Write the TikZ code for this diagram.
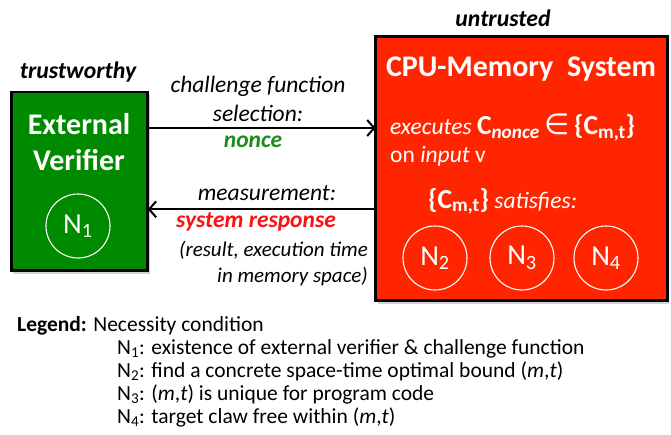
\documentclass[tikz,border=0pt]{standalone}
\usepackage{fontspec}
\setmainfont{Carlito}
\newfontfamily\symfont{DejaVu Sans}
\usetikzlibrary{arrows.meta,shadows}
\definecolor{vgreen}{HTML}{008A00}
\definecolor{vred}{HTML}{FF2500}
\definecolor{ngreen}{HTML}{1C8C1C}
\definecolor{rtext}{HTML}{FF1010}
\begin{document}
\begin{tikzpicture}[x=1pt,y=-1pt,
  box/.style={draw=black,line width=2.8pt,drop shadow={opacity=0.35,shadow xshift=2pt,shadow yshift=-3pt}},
  circ/.style={circle,draw=white,line width=1.1pt,minimum size=64pt,inner sep=0pt,text=white,font=\fontsize{29}{29}\selectfont},
  lbl/.style={font=\fontsize{23.5}{26}\selectfont\itshape,anchor=center,inner sep=0pt},
  hdr/.style={font=\fontsize{23.7}{26}\selectfont\bfseries\itshape,anchor=center,inner sep=0pt},
  wtitle/.style={text=white,font=\fontsize{30}{36}\selectfont\bfseries,align=center,inner sep=0pt},
  wtext/.style={text=white,font=\fontsize{23.5}{26}\selectfont,anchor=base west,inner sep=0pt},
  leg/.style={font=\fontsize{21.5}{24}\selectfont,anchor=base west,inner sep=0pt},
  arr/.style={line width=2pt,-{Straight Barb[length=7pt,width=16pt,line width=2pt]}},
]
\useasboundingbox (0,0) rectangle (671,434);
\fill[white] (0,0) rectangle (671,434);

% boxes
\path[box,fill=vgreen] (11.3,92) rectangle (147.8,270.7);
\coordinate (evR1) at (147.8,128);
\coordinate (evR2) at (147.8,209.3);
\path[box,fill=vred] (375.5,36.7) rectangle (667.3,300.7);
\coordinate (cpL1) at (375.5,128);
\coordinate (cpL2) at (375.5,209.3);

% headings
\node[hdr] (trust) at (78,72) {trustworthy};
\node[hdr] (untr) at (503,18) {untrusted};

% External verifier
\node[wtitle] (evt) at (79,142) {External\\Verifier};
\node[circ] (n1) at (78,226) {N\textsubscript{1}};

% CPU-Memory system
\node[wtitle,anchor=center] (cpt) at (521,69) {CPU-Memory\ \ System};
\node[wtext] (exe) at (390,134.5) {\itshape executes \upshape\fontsize{27.5}{28}\selectfont\bfseries C\textsubscript{\itshape nonce}\,{\mdseries\symfont\fontsize{29}{29}\selectfont ∈}\,\{C\textsubscript{m,t}\}};
\node[wtext] (oninp) at (390,162) {on \textit{input} v};
\node[wtext] (sat) at (428,208) {{\fontsize{27.5}{28}\selectfont\bfseries\{C\textsubscript{m,t}\}} \textit{satisfies:}};
\node[circ] (n2) at (435,258) {N\textsubscript{2}};
\node[circ] (n3) at (522,258) {N\textsubscript{3}};
\node[circ] (n4) at (606,258) {N\textsubscript{4}};

% arrows
\draw[arr] (evR1) -- (cpL1);
\draw[arr] (cpL2) -- (evR2);

% arrow labels
\node[lbl] (l1) at (258,86) {challenge function};
\node[lbl] (l2) at (258,113) {selection:};
\node[lbl,font=\fontsize{23.5}{26}\selectfont\bfseries\itshape,text=ngreen] (l3) at (253,142) {nonce};
\node[lbl] (l4) at (267,193) {measurement:};
\node[lbl,font=\fontsize{23.5}{26}\selectfont\bfseries\itshape,text=rtext] (l5) at (256,222) {system response};
\node[lbl,font=\fontsize{21}{24}\selectfont\itshape,anchor=east] (l6) at (368,250) {(result, execution time};
\node[lbl,font=\fontsize{21}{24}\selectfont\itshape,anchor=east] (l7) at (368,277) {in memory space)};

% legend
\node[leg] (lg0) at (17,331) {\textbf{Legend:} Necessity condition};
\node[leg] (lg1) at (117,354) {N\textsubscript{1}: existence of external verifier \& challenge function};
\node[leg] (lg2) at (117,377) {N\textsubscript{2}: find a concrete space-time optimal bound (\textit{m},\textit{t})};
\node[leg] (lg3) at (117,400) {N\textsubscript{3}: (\textit{m},\textit{t}) is unique for program code};
\node[leg] (lg4) at (117,423) {N\textsubscript{4}: target claw free within (\textit{m},\textit{t})};
\end{tikzpicture}
\end{document}
